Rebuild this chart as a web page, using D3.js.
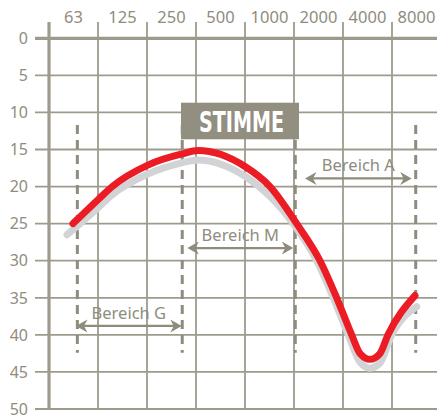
<!DOCTYPE html>
<html>
<head>
<meta charset="utf-8">
<script src="https://cdn.jsdelivr.net/npm/d3@7"></script>
<style>
  body { margin: 0; background: #fff; }
  svg { display: block; }
</style>
</head>
<body>
<div id="chart"></div>
<script>
// octave band labels (top axis) and level ticks (left axis)
var bandLabels = ["63", "125", "250", "500", "1000", "2000", "4000", "8000"];
var bandFreq = [62.5, 125, 250, 500, 1000, 2000, 4000, 8000];
var dbTicks = [0, 5, 10, 15, 20, 25, 30, 35, 40, 45, 50];

// red curve (Hz, dB)
var redFreq = [62, 89, 108, 179, 290, 364, 707, 1007, 1469, 2043, 2587, 3199, 3598, 4144, 4774, 5346, 7831];
var redDb   = [25, 21.7, 20, 17.1, 15.6, 15.15, 17.3, 20, 25, 30, 35, 40, 42.5, 43.3, 42.5, 40, 34.7];

// grey shadow curve (Hz, dB)
var greyFreq = [57, 89, 108, 179, 290, 364, 707, 1007, 1400, 1949, 2466, 3049, 3598, 4144, 4774, 5633, 8024];
var greyDb   = [26.5, 22.8, 21.1, 18.3, 16.8, 16.4, 18.6, 21.3, 25, 30, 35, 40, 43.7, 44.5, 43.8, 40, 36.2];

// dashed range boundaries (Hz)
var dashFreq = [66, 291, 1440, 7911];

// range arrows
var rangeNames = ["Bereich G", "Bereich M", "Bereich A"];
var rangeFrom  = [64.7, 313, 1652];
var rangeTo    = [289, 1400, 7475];
var rangeDb    = [38.8, 28.3, 18.9];

var title = "STIMME";

var W = 437, H = 420;
var ink = "#8f8c7e", grid = "#9e9b8d";

var svg = d3.select("#chart").append("svg")
    .attr("width", W).attr("height", H);

// one octave = 49px, centred bands
var x = d3.scaleLog().base(2)
    .domain([1000 * Math.pow(2, -4.5), 1000 * Math.pow(2, 3.5)])
    .range([49, 441]);
var y = d3.scaleLinear().domain([0, 50]).range([38.3, 409]);

var edges = d3.range(9).map(function (k) { return 1000 * Math.pow(2, k - 4.5); });

// horizontal grid
svg.append("g").selectAll("line")
    .data(dbTicks).enter().append("line")
    .attr("x1", 35).attr("x2", W)
    .attr("y1", d => y(d)).attr("y2", d => y(d))
    .attr("stroke", grid)
    .attr("stroke-width", d => d == 0 ? 3.2 : 1.8);

// vertical grid + top ticks
svg.append("g").selectAll("line")
    .data(edges).enter().append("line")
    .attr("x1", d => x(d)).attr("x2", d => x(d))
    .attr("y1", 22).attr("y2", y(50))
    .attr("stroke", grid)
    .attr("stroke-width", (d, i) => i == 0 ? 3.2 : 1.8);

// left labels
svg.append("g").selectAll("text")
    .data(dbTicks).enter().append("text")
    .attr("x", 28).attr("y", d => y(d))
    .attr("dy", "0.36em")
    .attr("text-anchor", "end")
    .attr("font-family", "'Noto Sans', sans-serif")
    .attr("font-size", 16)
    .attr("fill", ink)
    .text(d => d);

// top labels
svg.append("g").selectAll("text")
    .data(bandLabels).enter().append("text")
    .attr("x", (d, i) => x(bandFreq[i]))
    .attr("y", 22.5)
    .attr("text-anchor", "middle")
    .attr("font-family", "'Noto Sans', sans-serif")
    .attr("font-size", 16.5)
    .attr("fill", ink)
    .text(d => d);

// dashed boundaries
svg.append("g").selectAll("line")
    .data(dashFreq).enter().append("line")
    .attr("x1", d => x(d)).attr("x2", d => x(d))
    .attr("y1", y(11.7)).attr("y2", y(42.4))
    .attr("stroke", ink)
    .attr("stroke-width", 3)
    .attr("stroke-dasharray", "9,6");

// title box
var box = svg.append("g");
box.append("rect")
    .attr("x", 181).attr("y", 102.7)
    .attr("width", 118).attr("height", 36.6)
    .attr("fill", "#928f81");
box.append("text")
    .attr("x", 241.5).attr("y", 131.7)
    .attr("text-anchor", "middle")
    .attr("font-family", "'Liberation Sans Narrow', 'DejaVu Sans Condensed', sans-serif")
    .attr("font-weight", "bold")
    .attr("font-size", 28)
    .attr("textLength", 85)
    .attr("lengthAdjust", "spacingAndGlyphs")
    .attr("fill", "#fff")
    .text(title);

// range arrows
function arrowHead(px, py, dir) {
    // dir: -1 points left, 1 points right
    var l = 11.5, h = 6.5, n = 8;
    return "M" + px + "," + py +
        "L" + (px - dir * l) + "," + (py - h) +
        "L" + (px - dir * n) + "," + py +
        "L" + (px - dir * l) + "," + (py + h) + "Z";
}
var ranges = svg.append("g");
rangeNames.forEach(function (name, i) {
    var x0 = x(rangeFrom[i]), x1 = x(rangeTo[i]), yy = y(rangeDb[i]);
    ranges.append("line")
        .attr("x1", x0 + 6).attr("x2", x1 - 6)
        .attr("y1", yy).attr("y2", yy)
        .attr("stroke", ink).attr("stroke-width", 2.2);
    ranges.append("path").attr("d", arrowHead(x0, yy, -1)).attr("fill", ink);
    ranges.append("path").attr("d", arrowHead(x1, yy, 1)).attr("fill", ink);
    ranges.append("text")
        .attr("x", (x0 + x1) / 2).attr("y", yy - 7)
        .attr("text-anchor", "middle")
        .attr("font-family", "'Noto Sans', sans-serif")
        .attr("font-size", 16.5)
        .attr("fill", ink)
        .text(name);
});

// curves
var line = d3.line()
    .x(d => x(d[0])).y(d => y(d[1]))
    .curve(d3.curveMonotoneX);

svg.append("path")
    .datum(d3.zip(greyFreq, greyDb))
    .attr("d", line)
    .attr("fill", "none")
    .attr("stroke", "#d2d3d5")
    .attr("stroke-width", 7)
    .attr("stroke-linecap", "round");

svg.append("path")
    .datum(d3.zip(redFreq, redDb))
    .attr("d", line)
    .attr("fill", "none")
    .attr("stroke", "#ec1c24")
    .attr("stroke-width", 7)
    .attr("stroke-linecap", "round")
    .attr("stroke-linejoin", "round");
</script>
</body>
</html>
